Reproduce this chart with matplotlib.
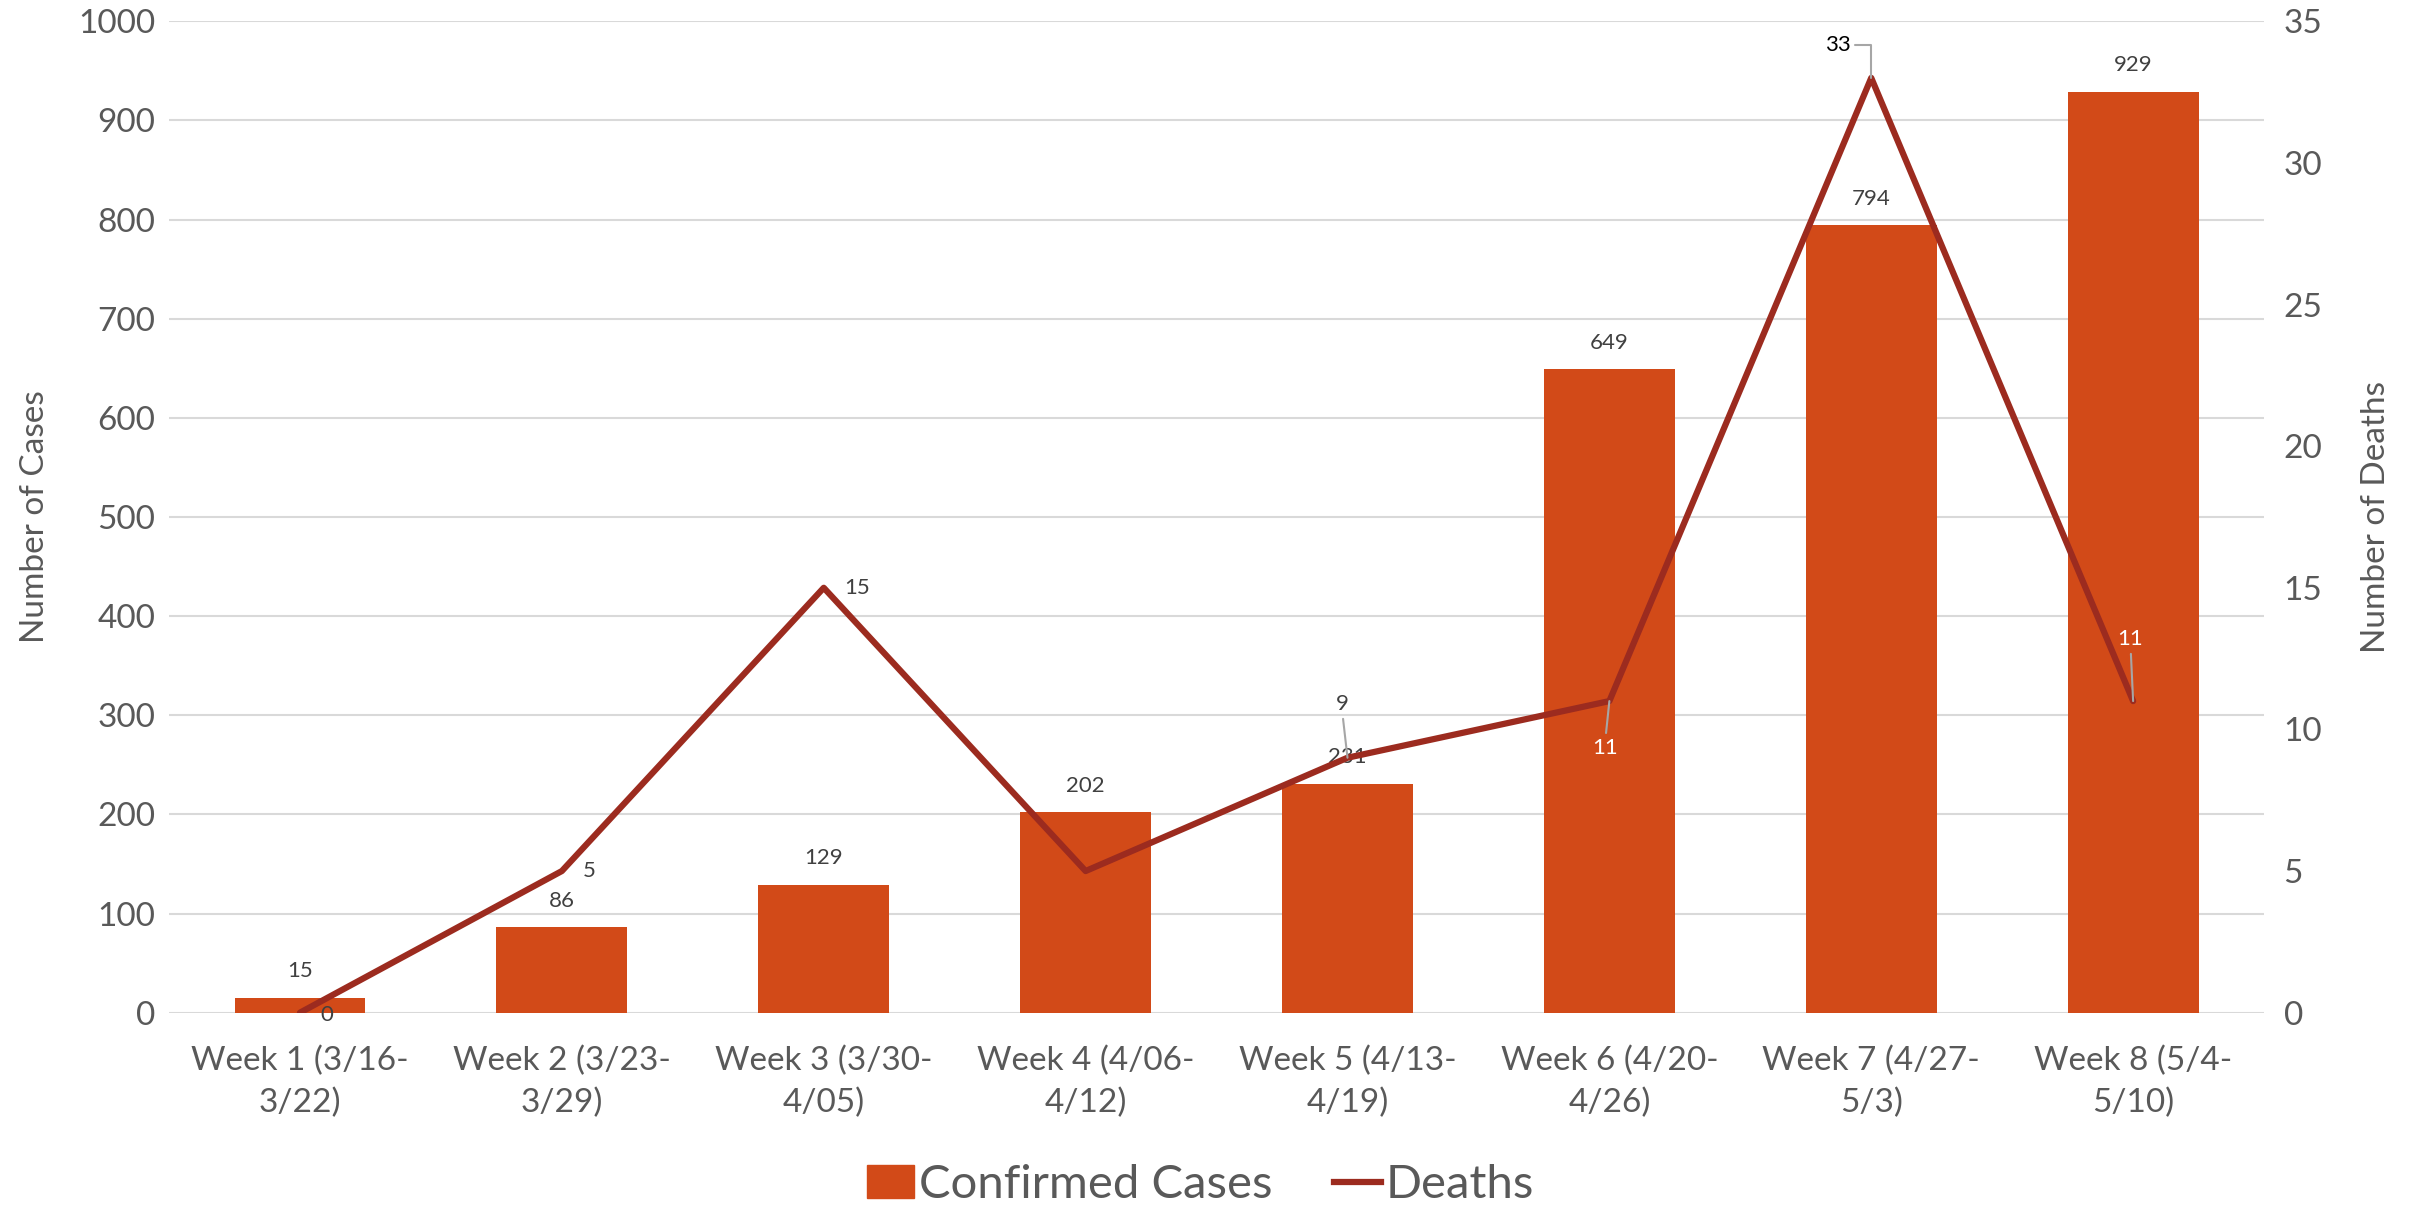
import matplotlib
matplotlib.use("Agg")
import matplotlib.pyplot as plt
from matplotlib.patches import Patch
from matplotlib.lines import Line2D

plt.rcParams['font.family'] = ['Lato', 'DejaVu Sans']

weeks = ["Week 1 (3/16-\n3/22)", "Week 2 (3/23-\n3/29)", "Week 3 (3/30-\n4/05)",
         "Week 4 (4/06-\n4/12)", "Week 5 (4/13-\n4/19)", "Week 6 (4/20-\n4/26)",
         "Week 7 (4/27-\n5/3)", "Week 8 (5/4-\n5/10)"]
cases = [15, 86, 129, 202, 231, 649, 794, 929]
deaths = [0, 5, 15, 5, 9, 11, 33, 11]
case_ticks = [0, 100, 200, 300, 400, 500, 600, 700, 800, 900, 1000]
death_ticks = [0, 5, 10, 15, 20, 25, 30, 35]

BAR = "#D24A18"
LINE = "#9C2B1F"
GRID = "#D9D9D9"
TXT = "#595959"
LBL = "#404040"

fig = plt.figure(figsize=(24.15, 12.07), dpi=100)
ax = fig.add_axes([0.070, 0.161, 0.8675, 0.8214])
ax2 = ax.twinx()

x = list(range(len(weeks)))
ax.bar(x, cases, width=0.5, color=BAR, zorder=2)
ax.set_xlim(-0.5, len(weeks) - 0.5)
ax.set_ylim(0, 1000)
ax.set_yticks(case_ticks)
ax.grid(axis='y', color=GRID, linewidth=1.5, zorder=0)
ax.set_axisbelow(True)
for s in ax.spines.values():
    s.set_visible(False)
for s in ax2.spines.values():
    s.set_visible(False)
ax.tick_params(axis='y', length=0, labelsize=24, labelcolor=TXT, pad=10)
ax.tick_params(axis='x', length=0, labelsize=24, labelcolor=TXT, pad=24)
ax.set_xticks(x)
ax.set_xticklabels(weeks, linespacing=1.45)
ax.set_ylabel("Number of Cases", fontsize=24, color=TXT, labelpad=20)

for xi, c in zip(x, cases):
    ax.annotate(str(c), (xi, c), xytext=(0, 19), textcoords='offset points',
                ha='center', va='center', fontsize=16, color=LBL, zorder=3)

ax2.plot(x, deaths, color=LINE, linewidth=4.5, zorder=4, solid_capstyle='round')
ax2.set_ylim(0, 35)
ax2.set_yticks(death_ticks)
ax2.tick_params(axis='y', length=0, labelsize=24, labelcolor=TXT, pad=14)
ax2.set_ylabel("Number of Deaths", fontsize=24, color=TXT, labelpad=28)

# death labels: (offset x pt, offset y pt, color, leader)
death_label_style = [
    (19, -2, LBL, None),
    (20, 0, LBL, None),
    (24, 0, LBL, None),
    None,
    (-4, 39, LBL, 'line'),
    (-3, -34, 'white', 'line'),
    (-24, 24, 'black', 'elbow'),
    (-2, 45, 'white', 'line'),
]
for xi, d, st in zip(x, deaths, death_label_style):
    if st is None:
        continue
    dx, dy, col, lead = st
    ax2.annotate(str(d), (xi, d), xytext=(dx, dy), textcoords='offset points',
                 ha='center', va='center', fontsize=16, color=col, zorder=5)
    if lead == 'line':
        sgn = 1 if dy > 0 else -1
        ax2.annotate("", (xi, d), xytext=(dx * 0.8, dy - sgn * 11),
                     textcoords='offset points',
                     arrowprops=dict(arrowstyle='-', color='#A6A6A6', lw=1.5,
                                     shrinkA=0, shrinkB=0), zorder=5)
    elif lead == 'elbow':
        ax2.annotate("", (xi, d), xytext=(dx + 12, dy),
                     textcoords='offset points',
                     arrowprops=dict(arrowstyle='-', color='#A6A6A6', lw=1.5,
                                     connectionstyle='angle,angleA=0,angleB=90,rad=0',
                                     shrinkA=0, shrinkB=0), zorder=5)

ax.set_zorder(1)
ax2.set_zorder(2)
ax2.patch.set_visible(False)

handles = [Patch(facecolor=BAR, edgecolor=BAR),
           Line2D([0], [0], color=LINE, linewidth=4.5)]
fig.legend(handles, ["Confirmed Cases", "Deaths"], loc='center',
           bbox_to_anchor=(0.497, 0.018), ncol=2, frameon=False,
           fontsize=34, labelcolor=TXT, handlelength=1.0, handleheight=0.7,
           handletextpad=0.1, columnspacing=1.3)

fig.savefig("out.png", dpi=100)
